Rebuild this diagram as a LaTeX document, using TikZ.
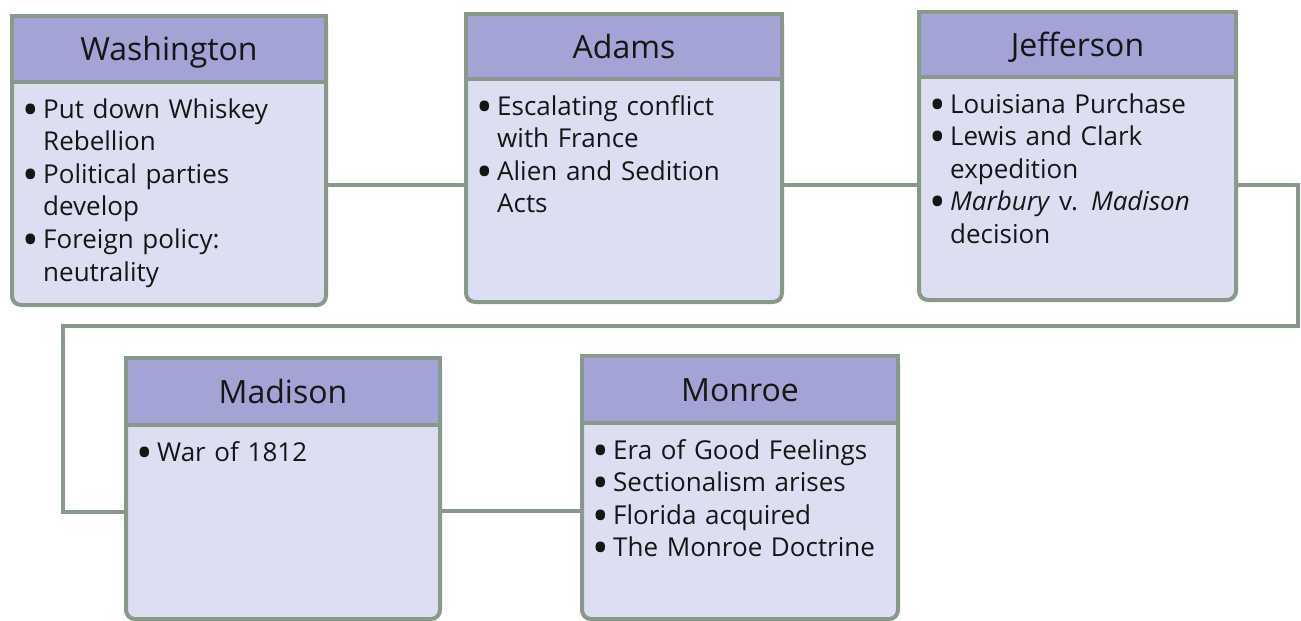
\documentclass[tikz,border=0pt]{standalone}
\usepackage{fontspec}
\usepackage{graphicx}
\setmainfont{Open Sans}
\definecolor{edge}{RGB}{136,153,138}
\definecolor{hdrfill}{RGB}{163,163,213}
\definecolor{bodfill}{RGB}{222,222,242}
\definecolor{ink}{RGB}{22,22,22}
\newcommand\bul{\makebox[16pt][l]{\hspace*{-5pt}\smash{\raisebox{-7pt}{\scalebox{1.7}{\textbullet}}}}}
\newcommand\ind{\hspace*{16pt}}
\tikzset{
  bodybox/.style={draw=edge, line width=4pt, fill=bodfill, rounded corners=9pt, inner sep=0pt, anchor=north west},
  hdrbox/.style={draw=edge, line width=4pt, fill=hdrfill, inner sep=0pt, anchor=north west,
    font=\fontsize{32}{36}\selectfont, text=ink, text height=24pt, text depth=1pt},
  txt/.style={anchor=base west, inner sep=0pt, align=left, text width=285pt, text=ink,
    font=\fontsize{26}{32.6}\selectfont},
  conn/.style={draw=edge, line width=4pt},
}
% name, L, T, W, header bottom, bottom, title, body
\newcommand\pbox[8]{%
  \node[bodybox, minimum width=#4pt, minimum height={#6-#3}] (#1B) at (#2,#3) {};
  \node[hdrbox, minimum width=#4pt, minimum height={#5-#3}] (#1H) at (#2,#3) {#7};
  \node[txt] (#1T) at ({#2+17},{#5+38}) {#8};
}
\begin{document}
\begin{tikzpicture}[x=1pt,y=-1pt]
\useasboundingbox (0,0) rectangle (1301,621);
\coordinate (c1) at (0,185);
\coordinate (r1) at (1298,185);
\coordinate (r2) at (1298,326);
\coordinate (l1) at (63,326);
\coordinate (l2) at (63,512);
\coordinate (c3) at (0,511);
\pbox{w}{10}{14}{314}{80}{303}{Washington}{\bul Put down Whiskey\\\ind Rebellion\\\bul Political parties\\\ind develop\\\bul Foreign policy:\\\ind neutrality}
\pbox{a}{464}{12}{316}{77}{300}{Adams}{\bul Escalating conflict\\\ind with France\\\bul Alien and Sedition\\\ind Acts}
\pbox{j}{917}{10}{317}{75}{298}{Jefferson}{\bul Louisiana Purchase\\\bul Lewis and Clark\\\ind expedition\\\bul \textit{Marbury} v. \textit{Madison}\\\ind decision}
\pbox{m}{124}{356}{314}{423}{617}{Madison}{\bul War of 1812}
\pbox{n}{580}{354}{316}{421}{617}{Monroe}{\bul Era of Good Feelings\\\bul Sectionalism arises\\\bul Florida acquired\\\bul The Monroe Doctrine}
\draw[conn] (wB.east |- c1) -- (aB.west |- c1);
\draw[conn] (aB.east |- c1) -- (jB.west |- c1);
\draw[conn] (jB.east |- c1) -- (r1) -- (r2) -- (l1) -- (l2) -- (mB.west |- l2);
\draw[conn] (mB.east |- c3) -- (nB.west |- c3);
\end{tikzpicture}
\end{document}
